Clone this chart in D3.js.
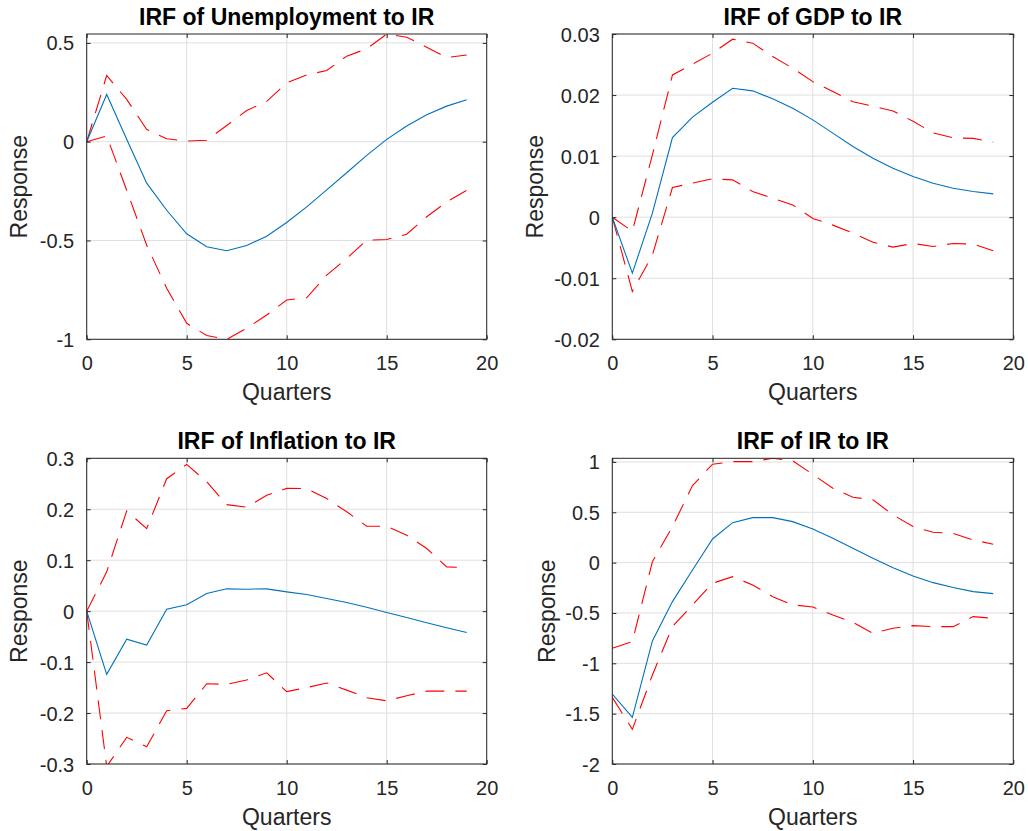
<!DOCTYPE html>
<html>
<head>
<meta charset="utf-8">
<script src="https://cdn.jsdelivr.net/npm/d3@7/dist/d3.min.js"></script>
<style>
  html, body { margin: 0; padding: 0; background: #fff; }
  svg text { font-family: "Liberation Sans", Arial, Helvetica, sans-serif; }
</style>
</head>
<body>
<svg id="chart" width="1028" height="831"></svg>
<script>
// ---------------- DATA ----------------
const quarters = d3.range(0, 20); // 0..19

const titles = [
  "IRF of Unemployment to IR",
  "IRF of GDP to IR",
  "IRF of Inflation to IR",
  "IRF of IR to IR"
];
const xLabel = "Quarters";
const yLabel = "Response";

const xTicks = [0, 5, 10, 15, 20];
const yTicks1 = [-1, -0.5, 0, 0.5];
const yTicks2 = [-0.02, -0.01, 0, 0.01, 0.02, 0.03];
const yTicks3 = [-0.3, -0.2, -0.1, 0, 0.1, 0.2, 0.3];
const yTicks4 = [-2, -1.5, -1, -0.5, 0, 0.5, 1];

const yLim1 = [-1, 0.545];
const yLim2 = [-0.02, 0.03];
const yLim3 = [-0.3, 0.3];
const yLim4 = [-2, 1.036];

// Unemployment
const unempIRF   = [0, 0.239, 0.012, -0.210, -0.347, -0.466, -0.532, -0.552, -0.525, -0.478, -0.409, -0.330, -0.244, -0.157, -0.069, 0.012, 0.079, 0.136, 0.180, 0.212];
const unempUpper = [0, 0.335, 0.214, 0.062, 0.015, 0.003, 0.007, 0.082, 0.158, 0.204, 0.298, 0.338, 0.360, 0.433, 0.470, 0.545, 0.529, 0.478, 0.426, 0.439];
const unempLower = [0, 0.029, -0.246, -0.524, -0.742, -0.919, -0.981, -1.0, -0.944, -0.877, -0.801, -0.790, -0.675, -0.591, -0.498, -0.495, -0.468, -0.380, -0.305, -0.246];

// GDP
const gdpIRF   = [0, -0.00917, 0.00066, 0.01305, 0.01638, 0.01883, 0.02112, 0.02069, 0.01938, 0.01785, 0.01594, 0.01376, 0.01157, 0.00966, 0.00802, 0.00666, 0.00557, 0.00475, 0.0042, 0.00382];
const gdpUpper = [0, -0.0023, 0.0102, 0.0233, 0.02505, 0.02686, 0.02915, 0.0285, 0.0263, 0.0244, 0.0222, 0.0206, 0.0189, 0.0182, 0.0174, 0.0157, 0.0138, 0.0130, 0.0129, 0.0123];
const gdpLower = [0, -0.01217, -0.0062, 0.00486, 0.00557, 0.00628, 0.00611, 0.0042, 0.0031, 0.0020, -0.0002, -0.0013, -0.0026, -0.0041, -0.0049, -0.0043, -0.0048, -0.0043, -0.0044, -0.0055];

// Inflation
const inflIRF   = [0, -0.124, -0.0549, -0.0667, 0.0039, 0.0124, 0.0346, 0.0438, 0.0431, 0.0438, 0.0379, 0.0327, 0.0248, 0.0170, 0.0078, -0.0026, -0.0124, -0.0229, -0.0327, -0.0418];
const inflUpper = [0, 0.0771, 0.1967, 0.162, 0.260, 0.288, 0.254, 0.209, 0.204, 0.2275, 0.241, 0.2405, 0.221, 0.195, 0.1667, 0.1667, 0.149, 0.123, 0.0869, 0.0856];
const inflLower = [0, -0.305, -0.2477, -0.266, -0.1954, -0.1908, -0.1425, -0.1438, -0.135, -0.121, -0.158, -0.150, -0.141, -0.155, -0.170, -0.176, -0.166, -0.157, -0.157, -0.157];

// Interest rate
const irIRF   = [-1.305, -1.536, -0.778, -0.387, -0.073, 0.235, 0.397, 0.447, 0.447, 0.407, 0.334, 0.242, 0.142, 0.043, -0.050, -0.132, -0.199, -0.248, -0.288, -0.308];
const irUpper = [-0.851, -0.785, 0.010, 0.358, 0.765, 0.977, 1.003, 1.003, 1.036, 1.010, 0.877, 0.738, 0.649, 0.623, 0.474, 0.358, 0.301, 0.291, 0.225, 0.182];
const irLower = [-1.338, -1.656, -1.116, -0.636, -0.420, -0.205, -0.139, -0.222, -0.338, -0.420, -0.440, -0.520, -0.593, -0.702, -0.652, -0.626, -0.636, -0.636, -0.536, -0.553];

// ---------------- LAYOUT ----------------
const panels = [
  { title: titles[0], irf: unempIRF, upper: unempUpper, lower: unempLower, yLim: yLim1, yTicks: yTicks1,
    box: { left: 86.7, right: 486.7, top: 34, bottom: 339.3 }, labelOff: 60 },
  { title: titles[1], irf: gdpIRF, upper: gdpUpper, lower: gdpLower, yLim: yLim2, yTicks: yTicks2,
    box: { left: 612.3, right: 1013.3, top: 34, bottom: 339.3 }, labelOff: 69.5 },
  { title: titles[2], irf: inflIRF, upper: inflUpper, lower: inflLower, yLim: yLim3, yTicks: yTicks3,
    box: { left: 86.7, right: 486.7, top: 458.3, bottom: 764 }, labelOff: 60 },
  { title: titles[3], irf: irIRF, upper: irUpper, lower: irLower, yLim: yLim4, yTicks: yTicks4,
    box: { left: 612.3, right: 1013.3, top: 458.3, bottom: 764 }, labelOff: 57.5 }
];

const axisColor = "#262626";
const gridColor = "#dfdfdf";
const blue = "#0072BD";
const red = "#FF0000";
const tickFont = 20;
const labelFont = 23;
const titleFont = 23;
const tickLen = 4;

function fmt(v) {
  return (+v.toFixed(4)).toString();
}

const svg = d3.select("#chart");

panels.forEach((p, i) => {
  const b = p.box;
  const x = d3.scaleLinear().domain([0, 20]).range([b.left, b.right]);
  const y = d3.scaleLinear().domain(p.yLim).range([b.bottom, b.top]);
  const g = svg.append("g");

  const clipId = "clip" + i;
  svg.append("clipPath").attr("id", clipId)
    .append("rect").attr("x", b.left).attr("y", b.top)
    .attr("width", b.right - b.left).attr("height", b.bottom - b.top);

  // grid
  g.append("g").selectAll("line").data(xTicks).join("line")
    .attr("x1", d => x(d)).attr("x2", d => x(d))
    .attr("y1", b.top).attr("y2", b.bottom)
    .attr("stroke", gridColor).attr("stroke-width", 1);
  g.append("g").selectAll("line").data(p.yTicks).join("line")
    .attr("x1", b.left).attr("x2", b.right)
    .attr("y1", d => y(d)).attr("y2", d => y(d))
    .attr("stroke", gridColor).attr("stroke-width", 1);

  // lines
  const line = d3.line().x((d, k) => x(quarters[k])).y(d => y(d));
  const lg = g.append("g").attr("clip-path", `url(#${clipId})`);
  lg.append("path").datum(p.upper).attr("d", line)
    .attr("fill", "none").attr("stroke", red).attr("stroke-width", 1.1)
    .attr("stroke-dasharray", "19,11");
  lg.append("path").datum(p.lower).attr("d", line)
    .attr("fill", "none").attr("stroke", red).attr("stroke-width", 1.1)
    .attr("stroke-dasharray", "19,11");
  lg.append("path").datum(p.irf).attr("d", line)
    .attr("fill", "none").attr("stroke", blue).attr("stroke-width", 1.1);

  // axes (ticks inward, box on)
  const axB = d3.axisBottom(x).tickValues(xTicks).tickSize(-tickLen).tickFormat(fmt).tickPadding(14);
  const axT = d3.axisTop(x).tickValues(xTicks).tickSize(-tickLen).tickFormat("");
  const axL = d3.axisLeft(y).tickValues(p.yTicks).tickSize(-tickLen).tickFormat(fmt).tickPadding(12.5);
  const axR = d3.axisRight(y).tickValues(p.yTicks).tickSize(-tickLen).tickFormat("");

  const gb = g.append("g").attr("transform", `translate(0,${b.bottom})`).call(axB);
  const gt = g.append("g").attr("transform", `translate(0,${b.top})`).call(axT);
  const gl = g.append("g").attr("transform", `translate(${b.left},0)`).call(axL);
  const gr = g.append("g").attr("transform", `translate(${b.right},0)`).call(axR);

  [gb, gt, gl, gr].forEach(a => {
    a.select(".domain").attr("stroke", axisColor).attr("stroke-width", 1).attr("d", null);
    a.selectAll(".tick line").attr("stroke", axisColor).attr("stroke-width", 1);
    a.selectAll(".tick text").attr("fill", axisColor).attr("font-size", tickFont)
      .attr("font-family", '"Liberation Sans", Arial, sans-serif');
  });
  g.append("rect").attr("x", b.left).attr("y", b.top)
    .attr("width", b.right - b.left).attr("height", b.bottom - b.top)
    .attr("fill", "none").attr("stroke", axisColor).attr("stroke-width", 1);

  gb.selectAll(".tick text").attr("dy", null).attr("y", 30.5);
  gl.selectAll(".tick text").attr("dy", "0.35em");

  // title
  g.append("text").attr("x", (b.left + b.right) / 2).attr("y", b.top - 9.5)
    .attr("text-anchor", "middle").attr("font-weight", "bold")
    .attr("font-size", titleFont).attr("fill", "#000").text(p.title);

  // x label
  g.append("text").attr("x", (b.left + b.right) / 2).attr("y", b.bottom + 61)
    .attr("text-anchor", "middle").attr("font-size", labelFont)
    .attr("fill", axisColor).text(xLabel);

  // y label
  const lx = b.left - p.labelOff;
  g.append("text")
    .attr("transform", `translate(${lx},${(b.top + b.bottom) / 2}) rotate(-90)`)
    .attr("text-anchor", "middle").attr("font-size", labelFont)
    .attr("fill", axisColor).text(yLabel);
});
</script>
</body>
</html>
